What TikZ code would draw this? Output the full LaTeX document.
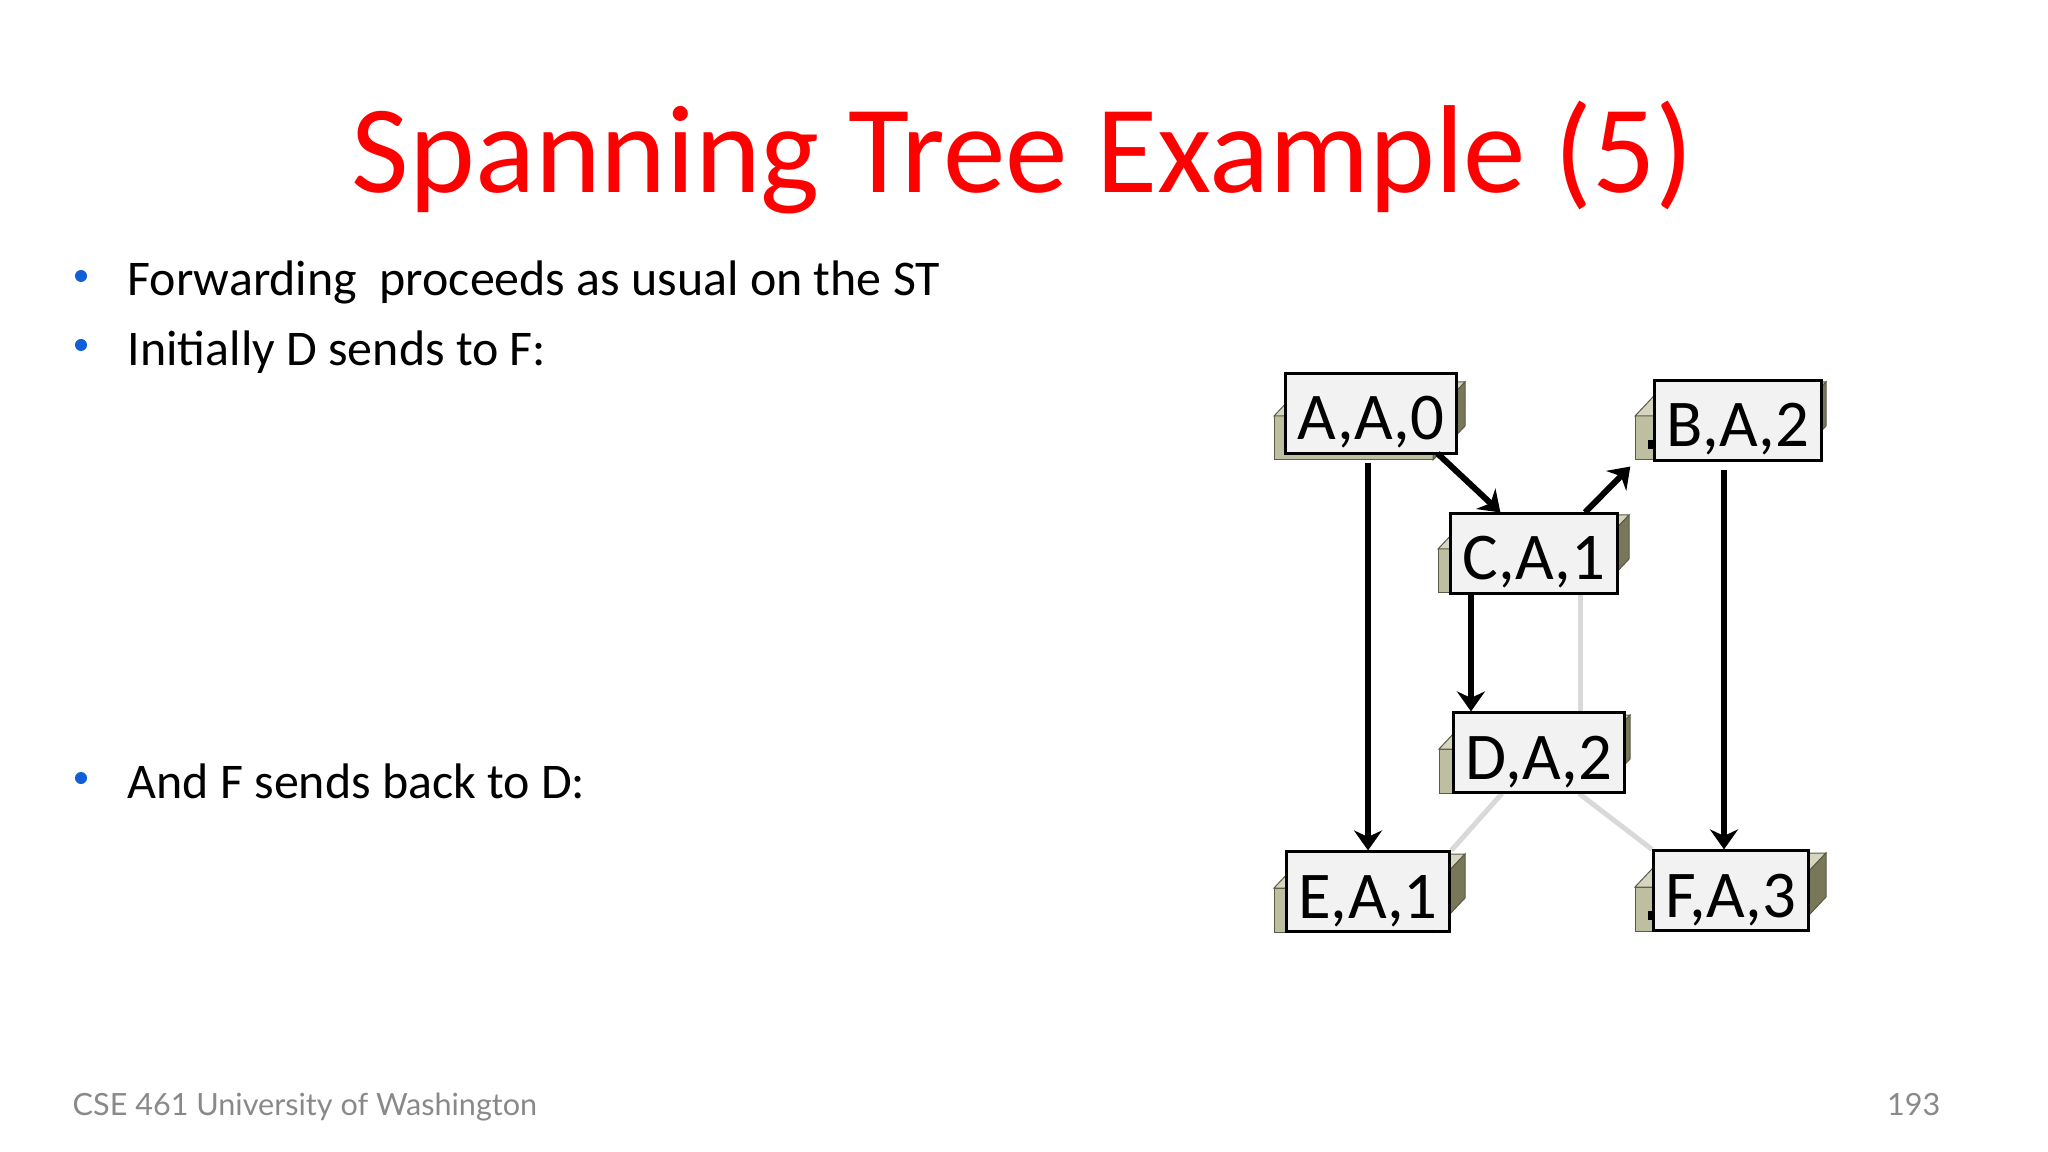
\documentclass[tikz,border=0pt]{standalone}
\usepackage{fontspec}
\setmainfont{Carlito}
\newfontfamily\footfont{Lato}
\usetikzlibrary{arrows.meta,backgrounds}

\definecolor{titlered}{RGB}{255,0,0}
\definecolor{bulletblue}{RGB}{17,94,214}
\definecolor{boxfill}{RGB}{242,242,242}
\definecolor{swfront}{RGB}{190,190,160}
\definecolor{swtop}{RGB}{214,214,192}
\definecolor{swside}{RGB}{120,120,88}
\definecolor{swedge}{RGB}{90,90,70}
\definecolor{linkgray}{RGB}{217,217,217}
\definecolor{footgray}{RGB}{137,137,137}

\tikzset{
  stlabel/.style = {draw, black, line width = 0.03cm, fill = boxfill, inner xsep = 0.12cm,
    inner ysep = 0pt, text height = 0.66cm, text depth = 0.13cm, anchor = base,
    font = \fontsize{19}{19}\selectfont},
  starrow/.style = {black, line width = 0.06cm, -{Stealth[length = 0.2cm, width = 0.28cm]}},
  stlink/.style = {linkgray, line width = 0.05cm},
  bullettext/.style = {anchor = base west, inner sep = 0pt, font = \fontsize{14.2}{17}\selectfont}
}

% switch drawn from its front bottom left corner
\newcommand{\switchicon}[2]{%
  \draw[swedge, line width = 0.01cm, fill = swfront] (#1, #2) rectangle ++(159, -44);
  \draw[swedge, line width = 0.01cm, fill = swtop] (#1, #2-44) -- ++(32, -34) -- ++(159, 0) -- ++(-32, 34) -- cycle;
  \draw[swedge, line width = 0.01cm, fill = swside] (#1+159, #2) -- ++(32, -34) -- ++(0, -44) -- ++(-32, 34) -- cycle;
  \fill[black] (#1+13, #2-20) rectangle ++(5, 9);
}

\begin{document}
\begin{tikzpicture}[x = 0.01cm, y = -0.01cm]
\useasboundingbox (0, 0) rectangle (2048, 1152);

% slide text
\node[titlered, anchor = base, inner sep = 0pt, font = \fontsize{35.6}{40}\selectfont] (title) at (1023, 193) {Spanning Tree Example (5)};
\fill[bulletblue] (81, 276) circle [radius = 0.06cm];
\node[bullettext] (fwd) at (127, 296) {Forwarding\ \ proceeds as usual on the ST};
\fill[bulletblue] (81, 345) circle [radius = 0.06cm];
\node[bullettext] (init) at (127, 366) {Initially D sends to F:};
\fill[bulletblue] (81, 778) circle [radius = 0.06cm];
\node[bullettext] (back) at (127, 798) {And F sends back to D:};
\node[footgray, anchor = base west, inner sep = 0pt, font = \footfont\fontsize{8.7}{10}\selectfont] (footer) at (72, 1115) {CSE 461 University of Washington};
\node[footgray, anchor = base east, inner sep = 0pt, font = \footfont\fontsize{8.7}{10}\selectfont] (pagenum) at (1941, 1115) {193};

% switches
\switchicon{1274}{460}
\switchicon{1635}{460}
\switchicon{1438}{593}
\switchicon{1439}{793}
\switchicon{1274}{932}
\switchicon{1635}{931}

\node[stlabel] (A) at (1371, 440) {A,A,0};
\node[stlabel] (B) at (1738, 447) {B,A,2};
\node[stlabel] (C) at (1534, 580) {C,A,1};
\node[stlabel] (D) at (1539, 779) {D,A,2};
\node[stlabel] (E) at (1368, 918) {E,A,1};
\node[stlabel] (F) at (1731, 917) {F,A,3};

% links not on the tree
\begin{pgfonlayer}{background}
\draw[stlink] ([xshift = 0.46cm]C.south) -- ([xshift = 0.46cm]C.south |- D.north);
\draw[stlink] ([xshift = -0.37cm]D.south) -- (E.north east);
\draw[stlink] ([xshift = 0.40cm]D.south) -- (F.north west);
\end{pgfonlayer}

% tree links
\draw[starrow, shorten <= 0.08cm] (E.north |- A.south) -- (E.north);
\draw[starrow] ([xshift = -0.2cm, yshift = 0.01cm]A.south east) -- ([xshift = 0.51cm]C.north west);
\draw[starrow] ([xshift = 0.51cm]C.north) -- ([xshift = -0.23cm, yshift = -0.05cm]B.south west);
\draw[starrow] ([xshift = -0.63cm]C.south) -- ([xshift = -0.63cm]C.south |- D.north);
\draw[starrow, shorten <= 0.08cm] ([xshift = -0.07cm]F.north |- B.south) -- ([xshift = -0.07cm]F.north);
\end{tikzpicture}
\end{document}
